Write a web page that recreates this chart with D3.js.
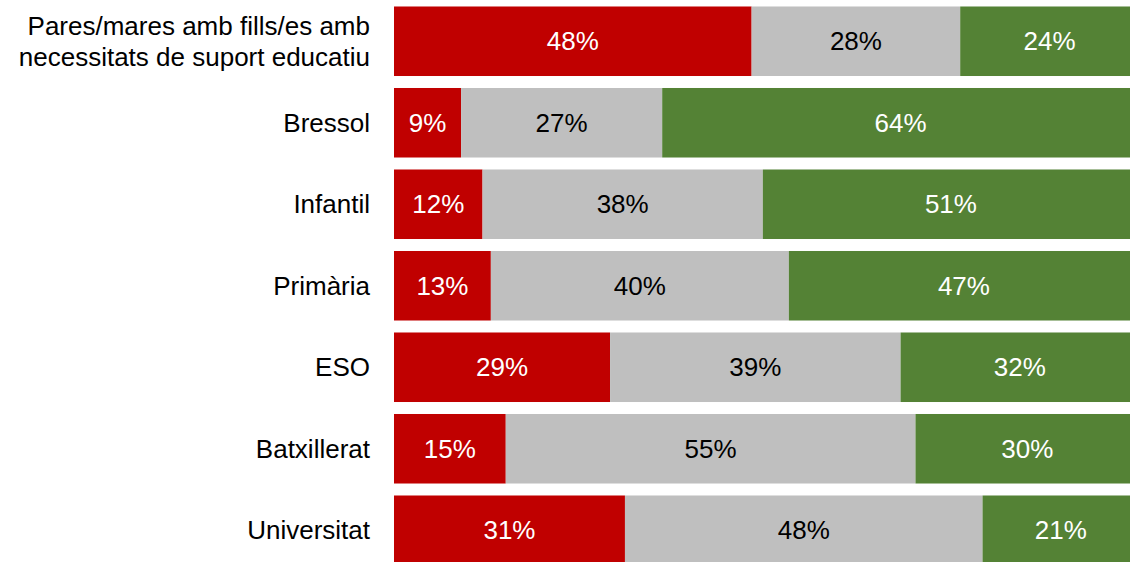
<!DOCTYPE html>
<html>
<head>
<meta charset="utf-8">
<script src="https://cdn.jsdelivr.net/npm/d3@7"></script>
<style>
  body { margin: 0; background: #fff; overflow: hidden; }
  svg text { font-family: "Liberation Sans", Arial, sans-serif; }
</style>
</head>
<body>
<div id="chart"></div>
<script>
// categories (top to bottom)
var categories = [
  ["Pares/mares amb fills/es amb", "necessitats de suport educatiu"],
  ["Bressol"],
  ["Infantil"],
  ["Primària"],
  ["ESO"],
  ["Batxillerat"],
  ["Universitat"]
];
// series values in %
var redValues   = [48, 9, 12, 13, 29, 15, 31];
var greyValues  = [28, 27, 38, 40, 39, 55, 48];
var greenValues = [24, 64, 51, 47, 32, 30, 21];

var seriesColors = ["#C00000", "#BFBFBF", "#548235"];
var textColors = ["#fff", "#000", "#fff"];

var svgWidth = 1130, svgHeight = 562;
// plot area runs a little past the right edge of the picture
var left = 394, right = 1139;

var svg = d3.select("#chart").append("svg")
  .attr("width", svgWidth)
  .attr("height", svgHeight);

var idx = d3.range(categories.length);

var y = d3.scaleBand()
  .domain(idx)
  .range([0.5, 0.5 + 81.5 * 7])
  .paddingInner(0.147)
  .paddingOuter(0.0735);

var x = d3.scaleLinear().domain([0, 1]).range([left, right]);

idx.forEach(function(i) {
  var vals = [redValues[i], greyValues[i], greenValues[i]];
  var total = d3.sum(vals);
  var acc = 0;
  var row = svg.append("g");
  vals.forEach(function(v, k) {
    var x0 = x(acc / total), x1 = x((acc + v) / total);
    row.append("rect")
      .attr("x", x0)
      .attr("y", y(i))
      .attr("width", x1 - x0)
      .attr("height", y.bandwidth())
      .attr("fill", seriesColors[k]);
    row.append("text")
      .attr("x", (x0 + x1) / 2)
      .attr("y", y(i) + y.bandwidth() / 2)
      .attr("dy", "0.35em")
      .attr("text-anchor", "middle")
      .attr("font-size", "26px")
      .attr("fill", textColors[k])
      .text(v + "%");
    acc += v;
  });

  // category label
  var lines = categories[i];
  var lab = svg.append("text")
    .attr("text-anchor", "end")
    .attr("font-size", "26px")
    .attr("fill", "#000");
  lines.forEach(function(t, j) {
    lab.append("tspan")
      .attr("x", 370)
      .attr("y", y(i) + y.bandwidth() / 2)
      .attr("dy", (0.35 + (j - (lines.length - 1) / 2) * 1.2) + "em")
      .text(t);
  });
});
</script>
</body>
</html>
